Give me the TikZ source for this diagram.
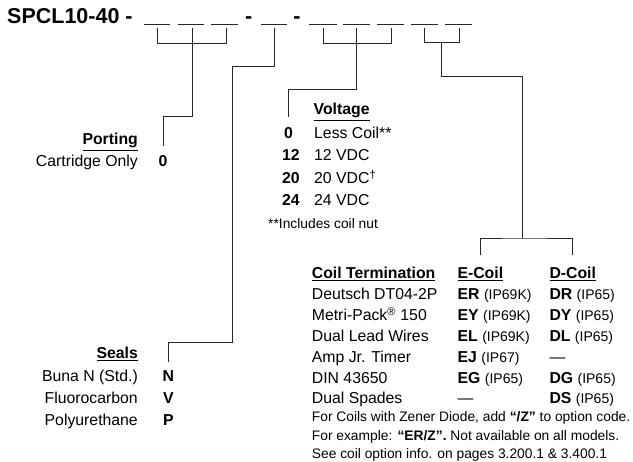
\documentclass[tikz,border=0pt]{standalone}
\usepackage{fontspec}
\setmainfont{Liberation Sans}
\newcommand\fsm{\fontsize{15.8}{18}\selectfont}
\newcommand\fss{\fontsize{13.8}{16}\selectfont}
\newcommand\fsip{\fontsize{14}{16}\selectfont}
\newcommand\fst{\fontsize{21.5}{25}\selectfont}
\begin{document}
\begin{tikzpicture}[x=1pt,y=-1pt,
  txt/.style={inner sep=0pt, font=\fsm, anchor=base west},
  rtxt/.style={inner sep=0pt, font=\fsm, anchor=base east},
  hdr/.style={inner sep=0pt, font=\fsm\bfseries, anchor=base west},
  rhdr/.style={inner sep=0pt, font=\fsm\bfseries, anchor=base east},
  code/.style={inner sep=0pt, font=\fsm\bfseries, anchor=base},
  note/.style={inner sep=0pt, font=\fss, anchor=base west},
  wire/.style={line width=0.9pt, black!85},
  blank/.style={line width=0.9pt, black!85}]
\useasboundingbox (0,0) rectangle (633,462);

% title line
\node[inner sep=0pt, anchor=base west, font=\fst\bfseries] (title) at (7,24) {SPCL10-40 -};
\node[inner sep=0pt, anchor=base, font=\fst\bfseries] (sep1) at (248.7,24) {-};
\node[inner sep=0pt, anchor=base, font=\fst\bfseries] (sep2) at (297,24) {-};
\foreach \a/\b in {144/170, 177.7/204.3, 211/237.7, 261/287, 309/337, 343/370, 377/404, 411/438, 445/472}
  \draw[blank] (\a,24.5) -- (\b,24.5);

% helper coordinates
\coordinate (p1) at (157,28);   \coordinate (p2) at (192,28);   \coordinate (p3) at (226.7,28);
\coordinate (v1) at (323.3,28); \coordinate (v2) at (356.7,28); \coordinate (v3) at (391.7,28);
\coordinate (c1) at (424,28);   \coordinate (c2) at (459.3,28); \coordinate (cm) at (441.7,42.7);
\coordinate (s1) at (274,28);
\coordinate (hb) at (0,43);
\coordinate (h1) at (0,116);
\coordinate (h2) at (0,89);
\coordinate (s2) at (232,66);
\coordinate (s3) at (232,342);
\coordinate (c3) at (522.7,76);
\coordinate (cb) at (0,238);

% Porting
\node[rhdr] (porth) at (138,145) {\underline{Porting}};
\node[rtxt] (portl) at (138,167) {Cartridge Only};
\node[code] (port0) at (163,167) {0};

% Seals
\node[rhdr] (sealh) at (138,359) {\underline{Seals}};
\node[rtxt] (seal1) at (138,382) {Buna N (Std.)};
\node[rtxt] (seal2) at (138,404) {Fluorocarbon};
\node[rtxt] (seal3) at (138,426) {Polyurethane};
\node[code] (sealN) at (168.3,382) {N};
\node[code] (sealV) at (168.3,404) {V};
\node[code] (sealP) at (168.3,426) {P};

% Voltage
\node[hdr] (volth) at (313.5,115) {\underline{Voltage}};
\node[code] (volt0) at (288.5,138.3) {0};
\node[code] (volt12) at (291,161) {12};
\node[code] (volt20) at (291,183.3) {20};
\node[code] (volt24) at (291,206) {24};
\node[txt] (vd0) at (314,138.3) {Less Coil**};
\node[txt] (vd12) at (314,161) {12 VDC};
\node[txt] (vd20) at (314,183.3) {20 VDC\textsuperscript{†}};
\node[txt] (vd24) at (314,206) {24 VDC};
\node[inner sep=0pt, font=\fss, anchor=base west] (vnote) at (268,229) {**Includes coil nut};

% Coil termination table
\node[hdr] (coilh) at (311.7,279) {\underline{Coil Termination}};
\node[hdr] (ecoil) at (457.3,279) {\underline{E-Coil}};
\node[hdr] (dcoil) at (549.3,279) {\underline{D-Coil}};
\foreach \y/\n/\e/\d [count=\i] in {
  299.8/Deutsch DT04-2P/{\textbf{ER} {\fsip(IP69K)}}/{\textbf{DR} {\fsip(IP65)}},
  320.6/{Metri-Pack\textsuperscript{\textregistered} 150}/{\textbf{EY} {\fsip(IP69K)}}/{\textbf{DY} {\fsip(IP65)}},
  341.6/Dual Lead Wires/{\textbf{EL} {\fsip(IP69K)}}/{\textbf{DL} {\fsip(IP65)}},
  362.4/Amp Jr. Timer/{\textbf{EJ} {\fsip(IP67)}}/{—},
  383.2/DIN 43650/{\textbf{EG} {\fsip(IP65)}}/{\textbf{DG} {\fsip(IP65)}},
  404/Dual Spades/{—}/{\textbf{DS} {\fsip(IP65)}}}
{
  \node[txt] (cn\i) at (311.7,\y) {\n};
  \node[txt] (ce\i) at (457.5,\y) {\e};
  \node[txt] (cd\i) at (549.3,\y) {\d};
}
\node[note] (cf1) at (311.7,422) {For Coils with Zener Diode, add \textbf{“/Z”} to option code.};
\node[note] (cf2) at (311.7,440.5) {For example: \textbf{“ER/Z”.} Not available on all models.};
\node[note] (cf3) at (311.7,459) {See coil option info. on pages 3.200.1 \& 3.400.1};

% connectors
\draw[wire] (p1) -- (p1 |- hb) -- (p3 |- hb) -- (p3);
\draw[wire, shorten >=9.5pt] (p2) -- (p2 |- h1) -| (port0.north);

\draw[wire, shorten >=8.5pt] (s1) |- (s2) -- (s3) -| (sealN.north);

\draw[wire] (v1) -- (v1 |- hb) -- (v3 |- hb) -- (v3);
\draw[wire, shorten >=10pt] (v2) -- (v2 |- h2) -| (volt0.north);

\draw[wire] (c1) -- (c1 |- cm) -- (c2 |- cm) -- (c2);
\draw[wire] (cm) |- (c3) -- (c3 |- cb);
\draw[wire, shorten <=12.5pt, shorten >=12.5pt] (ecoil.north) |- (c3 |- cb) -| (dcoil.north);
\end{tikzpicture}
\end{document}
